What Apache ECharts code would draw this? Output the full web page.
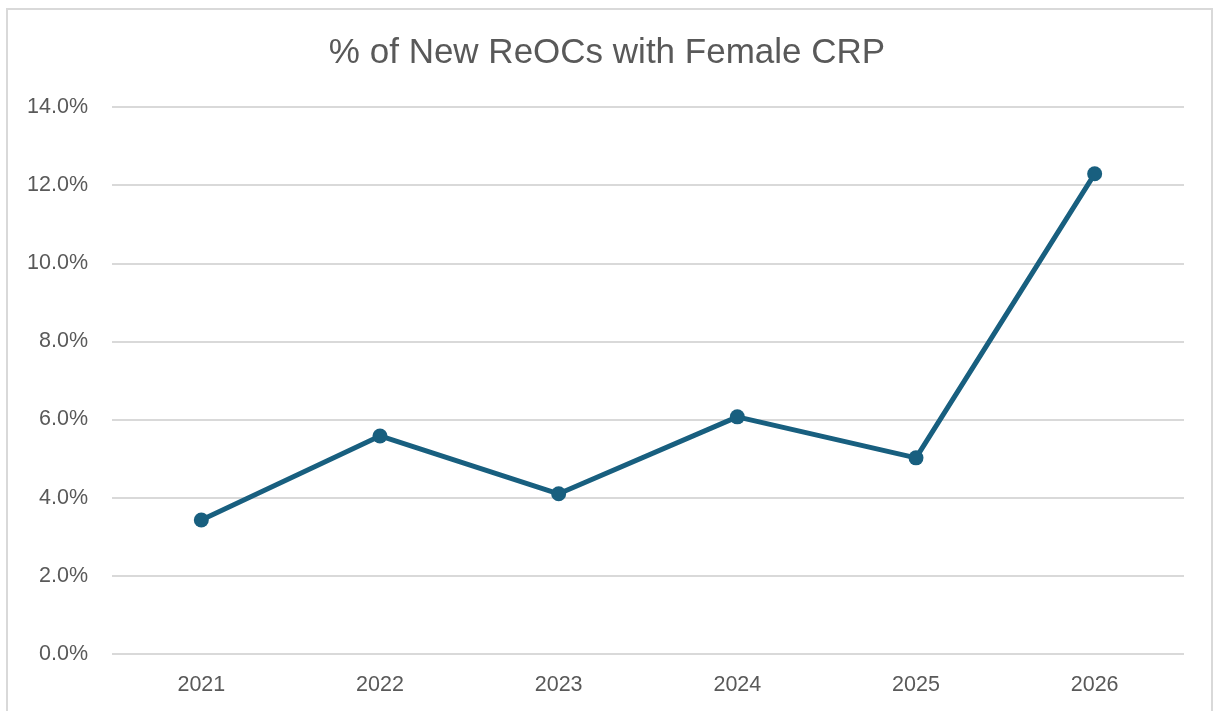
<!DOCTYPE html>
<html>
<head>
<meta charset="utf-8">
<script src="https://cdn.jsdelivr.net/npm/echarts@6/dist/echarts.min.js"></script>
<style>
  html, body { margin: 0; padding: 0; background: #fff; }
  #chart { width: 1214px; height: 711px; }
</style>
</head>
<body>
<div id="chart"></div>
<script>
// data
var years = ['2021', '2022', '2023', '2024', '2025', '2026'];
var femaleShare = [3.43, 5.58, 4.10, 6.07, 5.02, 12.29];
var yTicks = [0, 2, 4, 6, 8, 10, 12, 14];

var myChart = echarts.init(document.getElementById('chart'));
var option = {
  animation: false,
  backgroundColor: '#fff',
  title: {
    text: '% of New ReOCs with Female CRP',
    left: 'center',
    top: 31,
    textStyle: {
      fontFamily: 'Liberation Sans',
      fontSize: 35,
      fontWeight: 'normal',
      color: '#595959'
    }
  },
  graphic: [{
    type: 'rect',
    shape: { x: 7, y: 9, width: 1205, height: 720 },
    style: { fill: 'none', stroke: '#d9d9d9', lineWidth: 2 },
    silent: true
  }],
  grid: {
    left: 112,
    right: 30,
    top: 107,
    bottom: 57
  },
  xAxis: {
    type: 'category',
    data: years,
    axisLine: { show: false },
    axisTick: { show: false },
    axisLabel: {
      color: '#595959',
      fontFamily: 'Liberation Sans',
      fontSize: 21.5,
      margin: 20
    }
  },
  yAxis: {
    type: 'value',
    min: yTicks[0],
    max: yTicks[yTicks.length - 1],
    interval: 2,
    axisLine: { show: false },
    axisTick: { show: false },
    splitLine: { lineStyle: { color: '#d9d9d9', width: 2 } },
    axisLabel: {
      color: '#595959',
      fontFamily: 'Liberation Sans',
      fontSize: 21.5,
      margin: 24,
      formatter: function (v) { return v.toFixed(1) + '%'; }
    }
  },
  series: [{
    type: 'line',
    data: femaleShare,
    symbol: 'circle',
    symbolSize: 15,
    lineStyle: { color: '#185f7f', width: 5 },
    itemStyle: { color: '#185f7f' }
  }]
};
myChart.setOption(option);
</script>
</body>
</html>
